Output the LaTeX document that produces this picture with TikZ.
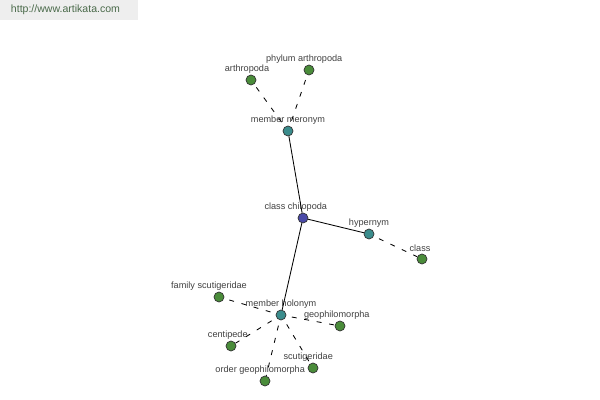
\documentclass[tikz,border=0pt]{standalone}
\usepackage{fontspec}
\setmainfont{Liberation Sans}
\usepackage{xcolor}
\definecolor{hubblue}{HTML}{4A4AA8}
\definecolor{reltea}{HTML}{3A8C8C}
\definecolor{leafgreen}{HTML}{4A8C3A}
\definecolor{marktext}{HTML}{4A6A4A}
\definecolor{markfill}{HTML}{EEEEEE}
\definecolor{labelgray}{HTML}{404040}

\begin{document}
\begin{tikzpicture}[
    x=0.025cm, y=-0.025cm,
    dot/.style={circle, draw=black!80, line width=0.5pt, minimum size=0.25cm, inner sep=0pt,
        label distance=-1pt},
    hub/.style={dot, fill=hubblue},
    relation/.style={dot, fill=reltea},
    leaf/.style={dot, fill=leafgreen},
    every label/.style={font=\fontsize{6.5}{7}\selectfont, text=labelgray, inner sep=1pt},
    solidlink/.style={black, line width=0.6pt},
    dashlink/.style={black, line width=0.6pt, dash pattern=on 3.5pt off 5.5pt, dash phase=5pt}
]
\useasboundingbox (0,0) rectangle (600,400);

% Watermark
\fill[markfill] (0,0) rectangle (138,20);
\node[text=marktext, font=\fontsize{7.5}{9}\selectfont, anchor=west] (mark) at (6,10) {http://www.artikata.com};

% Centre and relations
\node[hub, label={[xshift=-0.18cm]above:class chilopoda}] (chilopoda) at (303,218) {};
\node[relation, label=above:member meronym] (meronym) at (288,131) {};
\node[relation, label=above:hypernym] (hypernym) at (369,234) {};
\node[relation, label=above:member holonym] (holonym) at (281,315) {};

% Leaves
\node[leaf, label={[xshift=-0.1cm]above:arthropoda}] (arthropoda) at (251,80) {};
\node[leaf, label={[xshift=-0.12cm]above:phylum arthropoda}] (phylum) at (309,70) {};
\node[leaf, label={[xshift=-0.05cm]above:class}] (class) at (422,259) {};
\node[leaf, label={[xshift=-0.25cm]above:family scutigeridae}] (family) at (219,297) {};
\node[leaf, label={[xshift=-0.08cm]above:geophilomorpha}] (geophilo) at (340,326) {};
\node[leaf, label={[xshift=-0.08cm]above:centipede}] (centipede) at (231,346) {};
\node[leaf, label={[xshift=-0.12cm]above:scutigeridae}] (scutiger) at (313,368) {};
\node[leaf, label={[xshift=-0.12cm]above:order geophilomorpha}] (order) at (265,381) {};

% Links
\draw[solidlink] (chilopoda) -- (meronym);
\draw[solidlink] (chilopoda) -- (hypernym);
\draw[solidlink] (chilopoda) -- (holonym);

\draw[dashlink] (meronym) -- (arthropoda);
\draw[dashlink] (meronym) -- (phylum);
\draw[dashlink] (hypernym) -- (class);
\foreach \leafname in {family, geophilo, centipede, scutiger, order}
    \draw[dashlink] (holonym) -- (\leafname);

\end{tikzpicture}
\end{document}
